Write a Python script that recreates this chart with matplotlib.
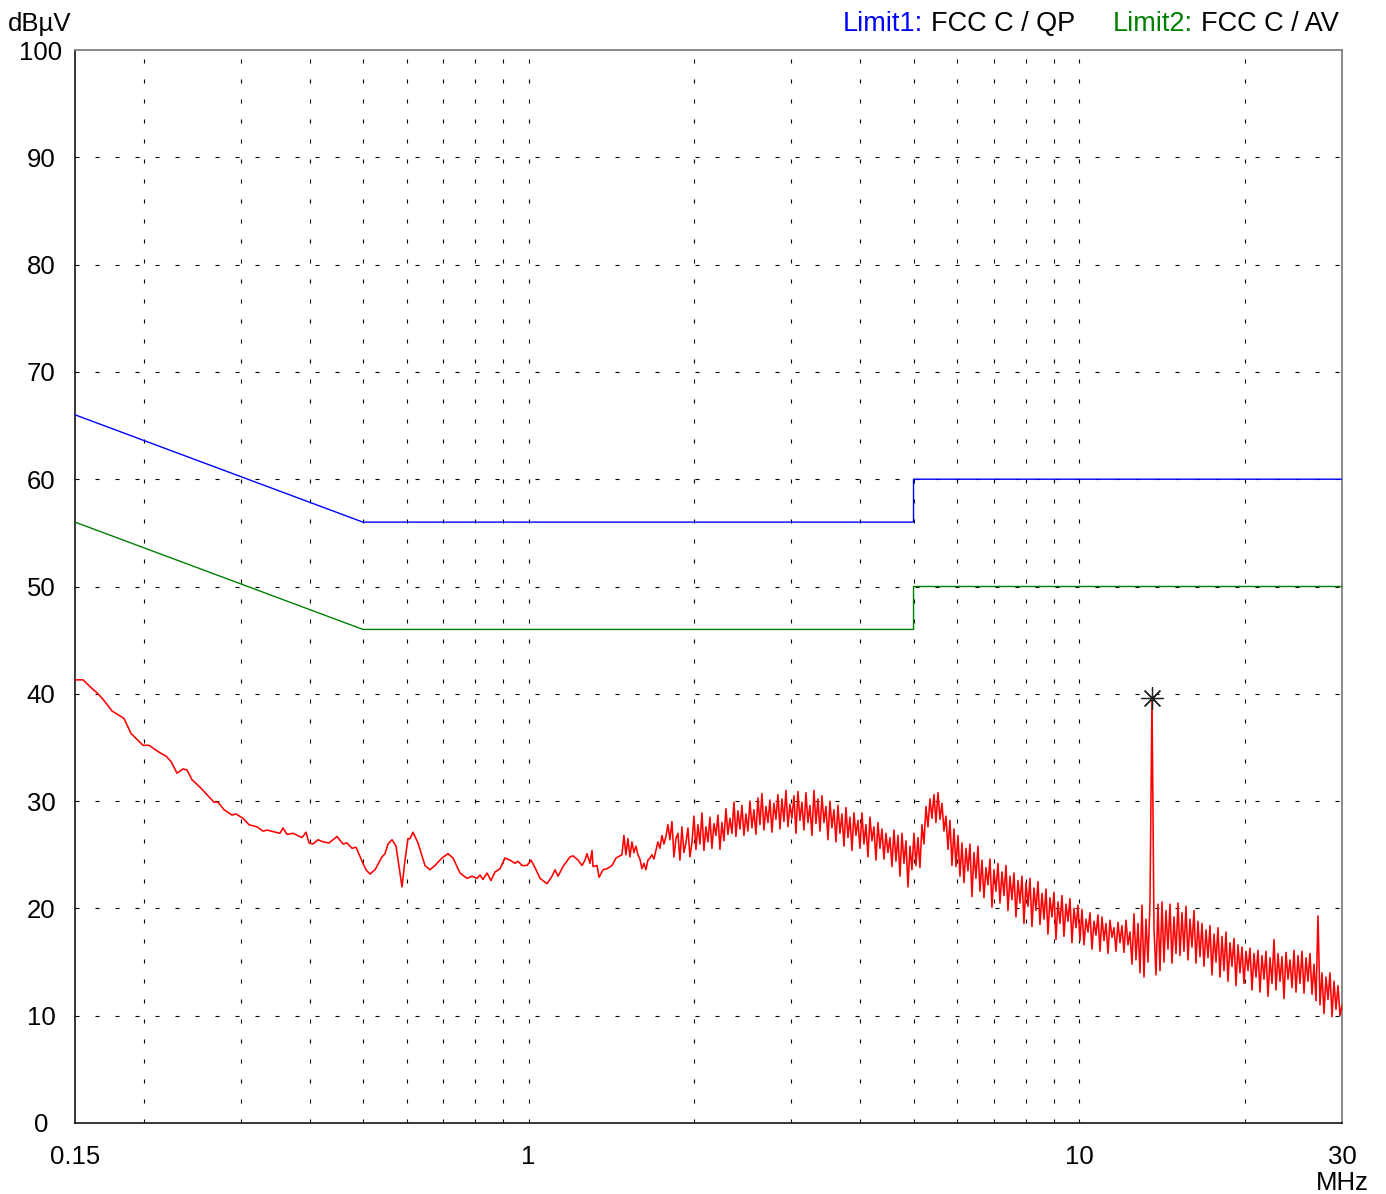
import numpy as np
import matplotlib
matplotlib.use('Agg')
import matplotlib.pyplot as plt

plt.rcParams['font.family'] = ['Liberation Sans', 'DejaVu Sans']
plt.rcParams['lines.scale_dashes'] = False

# ---------------- data ----------------
limit_freq = [0.15, 0.5, 5.0, 5.0, 30.0]
limit1_qp = [66, 56, 56, 60, 60]
limit2_av = [56, 46, 46, 50, 50]

# low-frequency part of the scan (MHz, dBuV)
scan_freq_low = [
    0.1500, 0.1551, 0.1610, 0.1644, 0.1686, 0.1751, 0.1841, 0.1896, 0.1993, 0.2044,
    0.2140, 0.2194, 0.2241, 0.2298, 0.2356, 0.2396, 0.2446, 0.2530, 0.2616, 0.2682,
    0.2728, 0.2797, 0.2892, 0.2941, 0.3028, 0.3105, 0.3211, 0.3292, 0.3348, 0.3535,
    0.3579, 0.3640, 0.3732, 0.3876, 0.3941, 0.3991, 0.4058, 0.4144, 0.4231, 0.4339,
    0.4487, 0.4600, 0.4678, 0.4777, 0.4858, 0.5001, 0.5065, 0.5150, 0.5259, 0.5415,
    0.5484, 0.5553, 0.5647, 0.5743, 0.5815, 0.5888, 0.5962, 0.6037, 0.6088, 0.6164,
    0.6295, 0.6482, 0.6619, 0.6759, 0.6960, 0.7136, 0.7287, 0.7504, 0.7727, 0.7890,
    0.8057, 0.8158, 0.8262, 0.8401, 0.8543, 0.8688, 0.8871, 0.9058, 0.9249, 0.9445,
    0.9563, 0.9725, 0.9931, 1.0098, 1.0269, 1.0487, 1.0798, 1.1027, 1.1165, 1.1307,
    1.1546, 1.1888, 1.2037, 1.2292, 1.2500, 1.2657, 1.2763, 1.2925, 1.3033, 1.3088,
    1.3309, 1.3421, 1.3648, 1.3879, 1.4171, 1.4411,
]
scan_level_low = [
    41.3, 41.3, 40.5, 40.1, 39.5, 38.4, 37.7, 36.3, 35.2, 35.2,
    34.5, 34.2, 33.7, 32.6, 33.0, 32.9, 32.0, 31.3, 30.5, 29.9,
    29.9, 29.2, 28.7, 28.8, 28.4, 27.8, 27.6, 27.2, 27.3, 27.0,
    27.5, 26.9, 27.0, 26.6, 27.1, 26.1, 26.0, 26.4, 26.2, 26.1,
    26.7, 26.0, 26.1, 25.6, 25.7, 24.2, 23.6, 23.2, 23.6, 24.8,
    25.1, 26.0, 26.4, 25.8, 23.9, 22.0, 24.5, 26.5, 26.5, 27.1,
    26.1, 24.0, 23.6, 24.0, 24.7, 25.1, 24.7, 23.3, 22.8, 23.0,
    22.8, 23.1, 22.7, 23.3, 22.6, 23.4, 23.7, 24.7, 24.5, 24.2,
    24.4, 24.0, 24.0, 24.5, 23.8, 22.8, 22.3, 23.0, 23.6, 23.0,
    23.9, 24.8, 24.9, 24.5, 24.0, 24.5, 25.1, 24.2, 25.4, 23.9,
    24.0, 22.9, 23.6, 23.7, 24.0, 24.7,
]

# high-frequency part: log-spaced sweep points from 1.477 MHz to 30 MHz
sweep_start = 1.477
sweep_stop = 30.0
scan_level_high = [
    25.0, 26.8, 25.0, 26.5, 24.8, 26.2, 25.2, 25.8, 25.0, 24.6,
    23.7, 24.2, 23.6, 24.5, 24.7, 25.0, 24.6, 25.4, 26.2, 25.6,
    26.8, 26.0, 26.7, 27.8, 26.4, 28.1, 24.8, 26.5, 27.0, 24.5,
    27.6, 25.2, 26.1, 27.5, 24.8, 26.1, 28.6, 25.5, 27.8, 26.0,
    28.9, 25.4, 27.6, 26.2, 28.5, 25.6, 27.9, 26.8, 28.7, 25.5,
    28.0, 26.3, 29.3, 26.9, 28.4, 27.0, 29.9, 26.7, 29.1, 27.4,
    29.6, 26.8, 28.8, 27.2, 30.0, 27.5, 29.2, 26.9, 30.3, 27.8,
    30.7, 27.3, 29.5, 28.0, 30.1, 27.1, 29.8, 28.3, 30.6, 27.4,
    30.2, 28.1, 31.0, 27.6, 29.7, 28.4, 30.5, 27.0, 30.9, 28.2,
    29.9, 27.3, 30.8, 28.0, 29.6, 26.8, 31.0, 27.9, 30.2, 27.2,
    30.5, 28.0, 29.5, 26.4, 30.0, 27.5, 29.2, 26.2, 29.6, 27.0,
    28.8, 25.8, 29.4, 26.6, 28.5, 25.4, 28.9, 26.8, 28.2, 25.6,
    28.9, 26.0, 27.8, 24.8, 28.5, 26.3, 27.6, 24.5, 28.0, 25.6,
    27.4, 24.6, 27.0, 25.2, 26.6, 23.9, 27.3, 24.4, 26.8, 23.0,
    27.0, 24.2, 26.3, 22.0, 25.8, 23.6, 27.0, 24.0, 26.6, 23.8,
    27.8, 26.0, 29.5, 27.6, 30.2, 28.4, 30.6, 28.0, 30.8, 28.3,
    29.8, 27.2, 28.6, 25.5, 28.2, 24.0, 27.4, 23.9, 26.8, 23.0,
    26.1, 22.4, 25.6, 23.5, 26.0, 21.1, 25.2, 22.8, 25.8, 21.6,
    24.5, 21.0, 23.8, 22.2, 24.6, 20.1, 23.6, 21.6, 24.2, 20.5,
    23.4, 21.2, 24.0, 19.8, 23.0, 20.8, 23.3, 19.2, 22.6, 20.5,
    23.0, 18.6, 22.4, 20.2, 22.8, 18.3, 21.9, 19.8, 22.5, 18.5,
    21.4, 19.0, 21.8, 17.6, 21.0, 19.2, 21.5, 17.1, 20.6, 18.6,
    21.2, 17.4, 20.4, 18.8, 20.9, 16.8, 20.0, 18.2, 20.3, 17.0,
    19.9, 16.6, 19.0, 17.8, 19.6, 16.2, 18.8, 17.5, 19.4, 16.0,
    19.2, 17.0, 18.6, 15.8, 18.9, 17.3, 18.2, 16.0, 18.7, 16.8,
    18.4, 15.9, 18.9, 16.6, 17.8, 14.8, 19.5, 15.2, 18.6, 14.0,
    20.3, 13.6, 19.0, 15.0, 20.5, 39.6, 18.2, 13.8, 20.4, 14.2,
    20.6, 15.0, 19.8, 16.2, 20.4, 14.9, 19.2, 15.8, 20.5, 15.6,
    19.6, 16.0, 20.2, 15.2, 19.0, 16.4, 19.8, 14.9, 18.8, 15.5,
    18.6, 14.6, 18.0, 15.4, 18.4, 13.8, 17.6, 15.0, 18.2, 13.6,
    17.4, 14.2, 17.8, 13.2, 16.8, 14.6, 17.2, 12.8, 16.6, 14.0,
    16.4, 13.0, 16.0, 14.2, 16.3, 12.4, 15.8, 13.6, 16.1, 12.2,
    15.6, 13.4, 16.0, 11.8, 15.4, 13.0, 17.1, 12.4, 15.8, 13.2,
    15.5, 11.6, 15.9, 13.4, 15.2, 12.6, 16.1, 12.2, 15.6, 13.0,
    16.0, 12.1, 15.4, 13.2, 15.8, 12.0, 14.8, 11.4, 19.3, 11.0,
    14.0, 10.2, 13.6, 11.5, 14.0, 9.9, 13.2, 10.6, 12.8, 10.0,
    11.0,
]

marker_freq = 13.56
marker_level = 39.6

y_ticks = list(range(0, 101, 10))
x_tick_vals = [0.15, 1, 10, 30]
x_tick_labels = ['0.15', '1', '10', '30']
grid_x = [0.2, 0.3, 0.4, 0.5, 0.6, 0.7, 0.8, 0.9, 1, 2, 3, 4, 5, 6, 7, 8, 9, 10, 20]
grid_y = list(range(10, 100, 10))

# ---------------- figure ----------------
W, H = 1386, 1194
fig = plt.figure(figsize=(W / 100, H / 100), dpi=100)
L, R, T, B = 75, 1342, 50, 1123
ax = fig.add_axes([L / W, (H - B) / H, (R - L) / W, (B - T) / H])
ax.set_xscale('log')
ax.set_xlim(0.15, 30)
ax.set_ylim(0, 100)
ax.xaxis.set_major_locator(matplotlib.ticker.NullLocator())
ax.xaxis.set_minor_locator(matplotlib.ticker.NullLocator())
ax.yaxis.set_major_locator(matplotlib.ticker.NullLocator())
ax.yaxis.set_minor_locator(matplotlib.ticker.NullLocator())

dash = (0, (2.9, 11.5))
for gx in grid_x:
    ax.axvline(gx, color='black', lw=0.8, linestyle=dash, zorder=1)
for gy in grid_y:
    ax.axhline(gy, color='black', lw=0.8, linestyle=dash, zorder=1)

for s in ['left', 'bottom']:
    ax.spines[s].set_color('black')
    ax.spines[s].set_linewidth(1.1)
for s in ['top', 'right']:
    ax.spines[s].set_color('#808080')
    ax.spines[s].set_linewidth(1.3)

ax.plot(limit_freq, limit1_qp, color='#0000FF', lw=1.0, zorder=3)
ax.plot(limit_freq, limit2_av, color='#008000', lw=1.0, zorder=3)

freq_high = np.geomspace(sweep_start, sweep_stop, len(scan_level_high))
freq_all = np.concatenate([np.array(scan_freq_low), freq_high])
level_all = np.concatenate([np.array(scan_level_low), np.array(scan_level_high)])
ax.plot(freq_all, level_all, color='#FF0000', lw=1.15, zorder=4)

ax.plot([marker_freq], [marker_level], marker=(8, 2, 0), ms=16, color='#202020',
        mew=0.9, linestyle='none', zorder=5)

fs = 18.5
ytr = ax.get_yaxis_transform()
for v in y_ticks:
    ax.text((41 - L) / (R - L), v, str(v), transform=ytr, ha='center',
            va='center_baseline', fontsize=fs, clip_on=False)
xtr = ax.get_xaxis_transform()
for v, lab in zip(x_tick_vals, x_tick_labels):
    ax.text(v, -(1154 - B) / (B - T), lab, transform=xtr, ha='center',
            va='center_baseline', fontsize=fs, clip_on=False)
ax.text(30, -(1181 - B) / (B - T), 'MHz', transform=xtr, ha='center',
        va='center_baseline', fontsize=fs, clip_on=False)

fig.text(40 / W, 1 - 21 / H, 'dBµV', ha='center', va='center_baseline', fontsize=fs)

fs_leg = 19.5
r = fig.canvas.get_renderer()
def seq(x0, parts, y):
    x = x0
    for s, c in parts:
        t = fig.text(x / W, 1 - y / H, s, color=c, ha='left', va='center_baseline', fontsize=fs_leg)
        bb = t.get_window_extent(renderer=r)
        x = bb.x1 + 7.5

seq(843, [('Limit1:', '#0000FF'), ('FCC C / QP', 'black')], 21)
seq(1113, [('Limit2:', '#008000'), ('FCC C / AV', 'black')], 21)

fig.savefig('out.png', dpi=100)
